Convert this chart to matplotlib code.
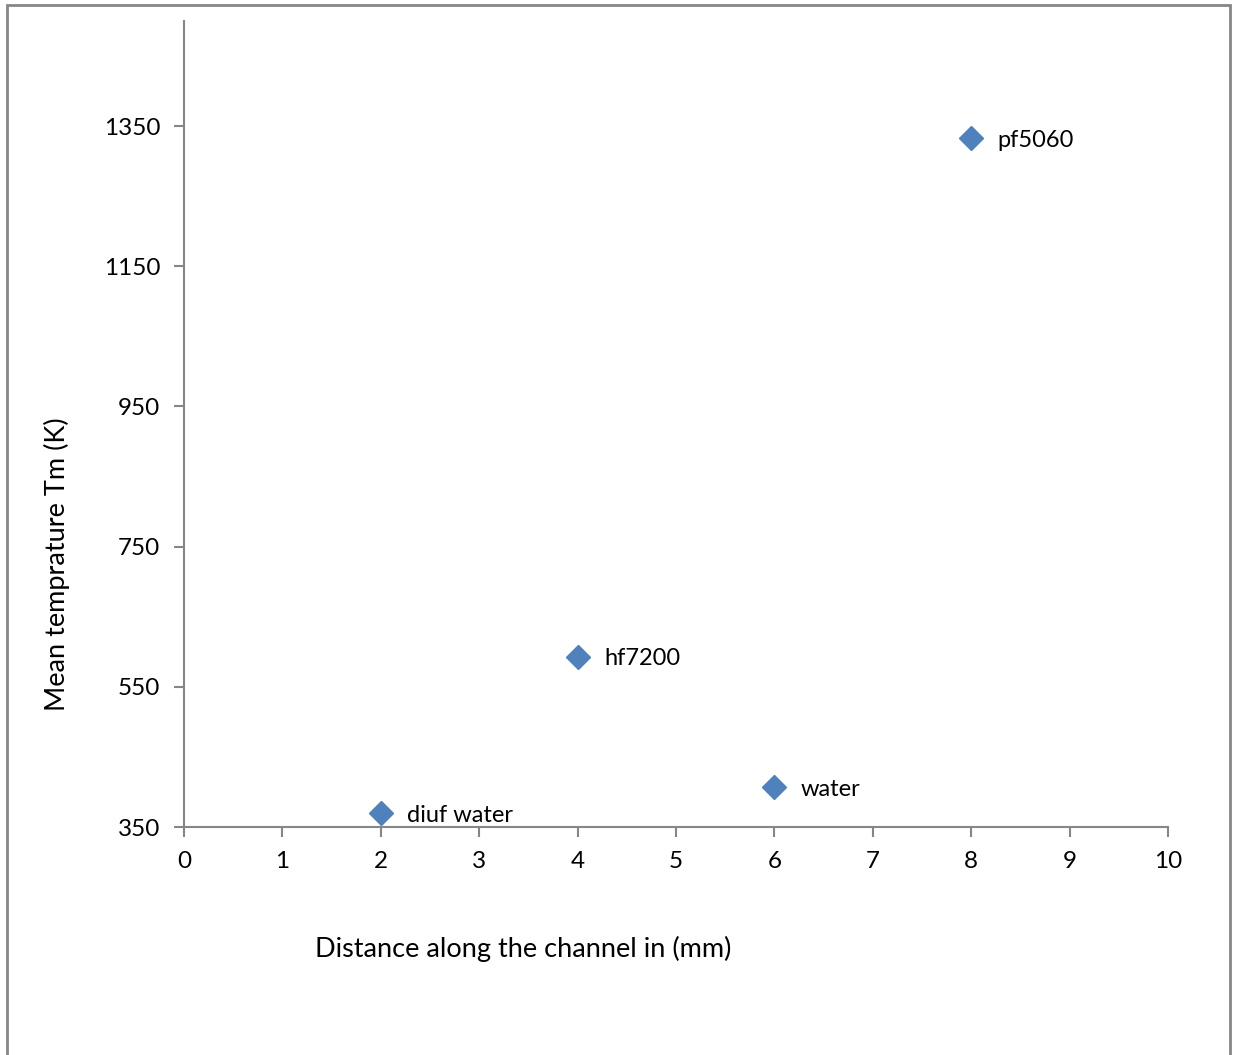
import matplotlib.pyplot as plt
from matplotlib.patches import Rectangle

plt.rcParams['font.family'] = ['Lato', 'DejaVu Sans']

fluids = ['diuf water', 'hf7200', 'water', 'pf5060']
distance = [2, 4, 6, 8]
temp_mean = [370, 593, 407, 1333]

fig = plt.figure(figsize=(12.33, 10.55), dpi=100)
ax = fig.add_axes([184 / 1233, 1 - 827 / 1055, 984 / 1233, 806 / 1055])

ax.plot(distance, temp_mean, linestyle='none', marker='D', markersize=12,
        color='#4F81BD', markeredgecolor='#4F81BD')
for x, y, name in zip(distance, temp_mean, fluids):
    ax.annotate(name, (x, y), xytext=(19, -1.5), textcoords='offset points',
                va='center', ha='left', fontsize=17, color='black')

ax.set_xlim(0, 10)
ax.set_ylim(350, 1500)
ax.set_xticks(range(0, 11))
ax.set_yticks([350, 550, 750, 950, 1150, 1350])
ax.tick_params(direction='out', length=7, width=1.5, color='#868686',
               labelsize=17.5)
ax.tick_params(axis='x', pad=10)
ax.tick_params(axis='y', pad=10)
for side in ['top', 'right']:
    ax.spines[side].set_visible(False)
for side in ['left', 'bottom']:
    ax.spines[side].set_color('#868686')
    ax.spines[side].set_linewidth(1.5)

fig.text(57 / 1233, 1 - 564 / 1055, 'Mean temprature Tm (K)', rotation=90,
         ha='center', va='center', fontsize=19.5)
fig.text(523 / 1233, 1 - 949 / 1055, 'Distance along the channel in (mm)',
         ha='center', va='center', fontsize=19.5)

# outer chart frame, open at the bottom
fig.patches.append(Rectangle((6.5 / 1233, -0.05), (1230 - 6.5) / 1233, 1.05 - 4.5 / 1055,
                             transform=fig.transFigure, fill=False,
                             edgecolor='#868686', linewidth=2))

fig.savefig('out.png', dpi=100)
